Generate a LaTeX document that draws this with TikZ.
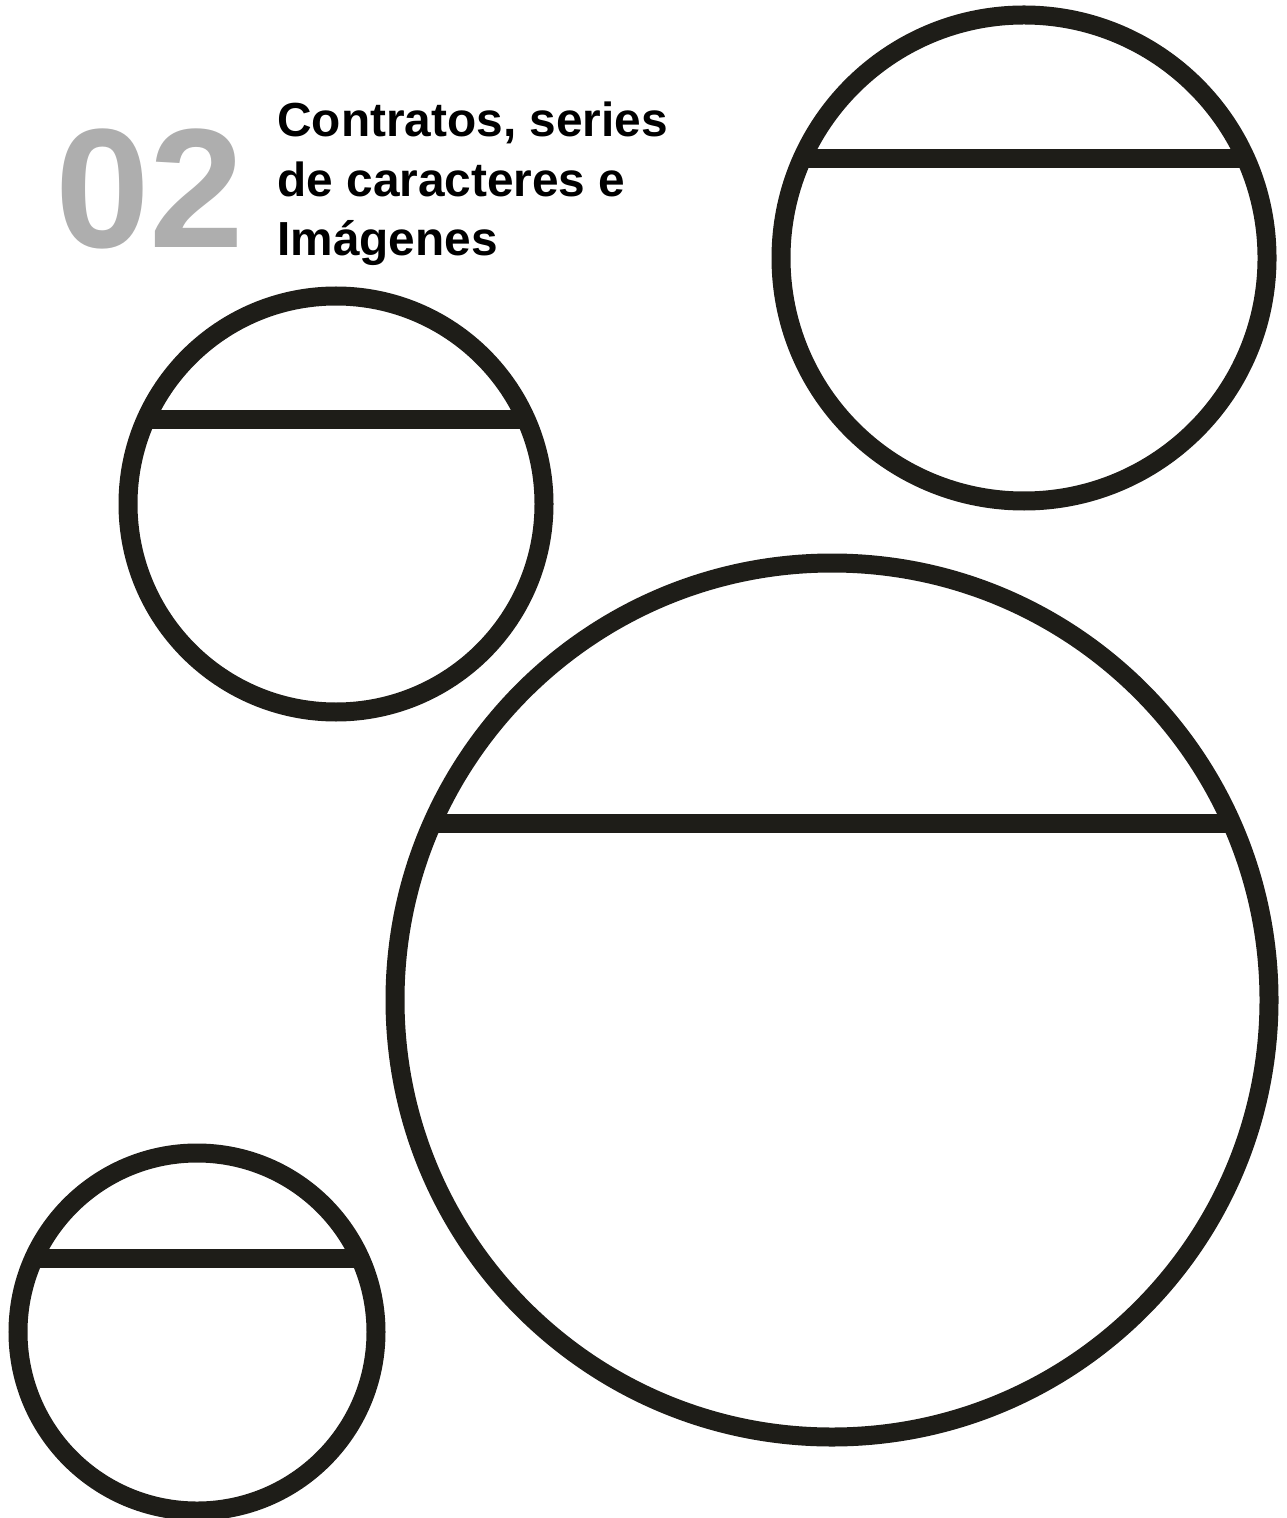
\documentclass[tikz,border=0pt]{standalone}
\usepackage{fontspec}
\setmainfont{Liberation Sans}
\definecolor{ink}{RGB}{30,29,24}
\definecolor{numgray}{RGB}{174,174,174}
\begin{document}
\begin{tikzpicture}[x=0.5pt,y=-0.5pt,
  ring/.style={draw=ink,line width=9.5pt},
  chord/.style={draw=ink,line width=9.5pt},
  titletext/.style={anchor=base west,inner sep=0pt,font=\fontsize{23.9}{30}\selectfont\bfseries,text=black},
  bignum/.style={anchor=base west,inner sep=0pt,font=\fontsize{85}{90}\selectfont\bfseries,text=numgray}]
\useasboundingbox (0,0) rectangle (1286,1518);
% numbers and title
\node[bignum] (num) at (55,248) {02};
\node[titletext] (t1) at (277,137) {Contratos, series};
\node[titletext] (t2) at (277,197) {de caracteres e};
\node[titletext] (t3) at (277,256) {Imágenes};
% top right circle
\draw[ring] (1024,258) circle[radius=243];
\draw[chord] (803,158.5) -- (1245,158.5);
% middle left circle
\draw[ring] (336,504) circle[radius=208];
\draw[chord] (145.7,420) -- (526.3,420);
% big circle
\draw[ring] (832,1000) circle[radius=437];
\draw[chord] (432.5,823) -- (1231.5,823);
% bottom left circle
\draw[ring] (197,1332) circle[radius=179];
\draw[chord] (34,1258) -- (360,1258);
\end{tikzpicture}
\end{document}
